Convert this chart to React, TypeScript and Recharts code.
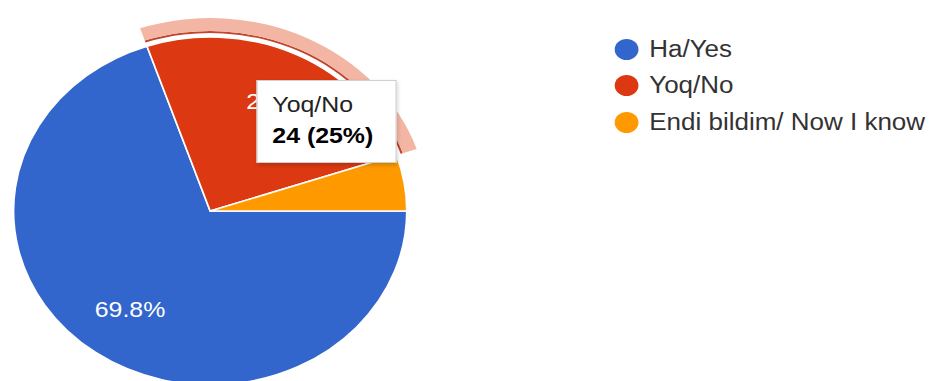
import { Cell, Legend, Pie, PieChart, Tooltip } from "recharts";

const answers = ["Ha/Yes", "Yoq/No", "Endi bildim/ Now I know"];
const counts = [67, 24, 5];
const COLORS = ["#3366cc", "#dc3912", "#ff9900"];
// slice shown as hovered (ring + tooltip)
const HOVER = 1;

const data = answers.map((name, i) => ({ name, value: counts[i] }));
const total = counts.reduce((a, b) => a + b, 0);

const RADIAN = Math.PI / 180;
const STRETCH = 1.13;
const W = 829;
const H = 381;
const FONT = '"Liberation Sans", Arial, sans-serif';

const fmtPct = (p: number) => `${Number((p * 100).toFixed(1))}%`;

interface labelProps {
  cx: number;
  cy: number;
  midAngle: number;
  outerRadius: number;
  percent: number;
}

const renderLabel = ({ cx, cy, midAngle, outerRadius, percent }: labelProps) => {
  if (percent < 0.1) return null;
  const r = outerRadius * 0.7;
  const x = cx + r * Math.cos(-midAngle * RADIAN);
  const y = cy + r * Math.sin(-midAngle * RADIAN);
  return (
    <text
      x={x}
      y={y}
      fill="#fff"
      fontSize={22}
      fontFamily={FONT}
      textAnchor="middle"
      dominantBaseline="central"
    >
      {fmtPct(percent)}
    </text>
  );
};

// keep legend rows in data order, not alphabetical
const renderLegend = ({ payload }: any) => {
  const rows = (payload || [])
    .filter((p: any) => p.type !== "none" && answers.includes(p.value))
    .sort((a: any, b: any) => answers.indexOf(a.value) - answers.indexOf(b.value));
  return (
    <ul style={{ listStyle: "none", margin: 0, padding: 0 }}>
      {rows.map((entry: any, i: number) => (
        <li
          key={i}
          style={{
            display: "flex",
            alignItems: "center",
            height: 36.5,
            fontSize: 23,
            color: "#333",
            whiteSpace: "nowrap",
          }}
        >
          <span
            style={{
              width: 21,
              height: 21,
              borderRadius: "50%",
              background: COLORS[answers.indexOf(entry.value)],
              marginRight: 9.5,
              flexShrink: 0,
            }}
          />
          <span>{entry.value}</span>
        </li>
      ))}
    </ul>
  );
};

const renderTooltip = ({ payload }: any) => {
  const item = payload && payload.length ? payload[0] : data[HOVER];
  const value = Number(item.value);
  return (
    <div
      style={{
        width: 124,
        boxSizing: "border-box",
        background: "#fff",
        border: "1px solid #cfcfcf",
        boxShadow: "1px 2px 4px rgba(0,0,0,0.2)",
        padding: "8px 0 11px 13px",
        fontFamily: FONT,
        fontSize: 22,
        lineHeight: "31px",
        color: "#222",
      }}
    >
      <div>{item.name}</div>
      <div style={{ fontWeight: "bold", color: "#000" }}>
        {value} ({fmtPct(value / total)})
      </div>
    </div>
  );
};

const App = () => (
  <div
    style={{
      position: "absolute",
      left: 0,
      top: 0,
      width: 937,
      height: 381,
      overflow: "hidden",
      background: "#fff",
    }}
  >
    <div
      style={{
        width: W,
        height: H,
        transform: `scaleX(${STRETCH})`,
        transformOrigin: "0 0",
        fontFamily: FONT,
      }}
    >
      <PieChart width={W} height={H} margin={{ top: 0, right: 0, bottom: 0, left: 0 }}>
        <Pie
          data={data}
          dataKey="value"
          nameKey="name"
          cx={186}
          cy={211}
          outerRadius={174}
          startAngle={0}
          endAngle={-360}
          stroke="#fff"
          strokeWidth={1.5}
          label={renderLabel as any}
          labelLine={false}
          isAnimationActive={false}
        >
          {data.map((_, idx) => (
            <Cell key={idx} fill={COLORS[idx]} />
          ))}
        </Pie>
        {/* hover ring: thin dark edge + pale band around the active slice */}
        <Pie
          data={data}
          dataKey="value"
          nameKey="name"
          cx={186}
          cy={211}
          innerRadius={178}
          outerRadius={180}
          startAngle={0}
          endAngle={-360}
          stroke="none"
          legendType="none"
          isAnimationActive={false}
        >
          {data.map((_, idx) => (
            <Cell key={idx} fill={idx === HOVER ? "#c0462e" : "none"} />
          ))}
        </Pie>
        <Pie
          data={data}
          dataKey="value"
          nameKey="name"
          cx={186}
          cy={211}
          innerRadius={180}
          outerRadius={193}
          startAngle={0}
          endAngle={-360}
          stroke="none"
          legendType="none"
          isAnimationActive={false}
        >
          {data.map((_, idx) => (
            <Cell key={idx} fill={idx === HOVER ? "#f3b5a4" : "none"} />
          ))}
        </Pie>
        <Legend
          layout="vertical"
          align="right"
          verticalAlign="top"
          content={renderLegend}
          wrapperStyle={{ left: 544, top: 31, width: 285 }}
        />
        <Tooltip
          active
          defaultIndex={HOVER}
          position={{ x: 227, y: 80 }}
          content={renderTooltip}
          isAnimationActive={false}
          wrapperStyle={{ outline: "none" }}
        />
      </PieChart>
    </div>
  </div>
);

export default App;
